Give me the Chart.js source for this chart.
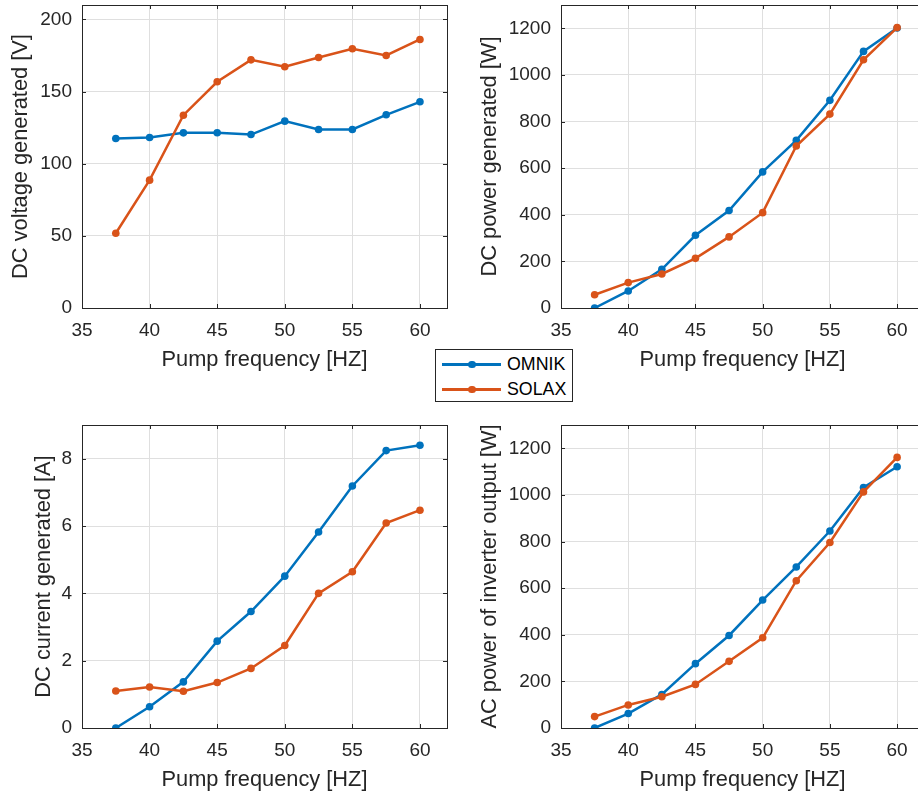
<!DOCTYPE html>
<html>
<head>
<meta charset="utf-8">
<script src="https://cdn.jsdelivr.net/npm/chart.js@4/dist/chart.umd.min.js"></script>
<style>
  html, body { margin: 0; padding: 0; background: #fff; overflow: hidden; }
  body { width: 918px; height: 793px; position: relative; }
  canvas { position: absolute; }
  #legend {
    position: absolute; left: 435px; top: 349px; width: 136px; height: 51px;
    border: 1px solid #262626; background: #fff; z-index: 5;
    font-family: 'Liberation Sans', Arial, sans-serif; font-size: 17.8px; color: #000;
  }
  .item { position: absolute; left: 0; height: 20px; width: 136px; }
  .item .ln { position: absolute; left: 6px; width: 59px; height: 2.5px; top: 9px; }
  .item .dot { position: absolute; left: 32px; width: 7.5px; height: 7.5px; border-radius: 50%; top: 6.5px; }
  .item .tx { position: absolute; left: 71px; top: 0; line-height: 20px; }
</style>
</head>
<body>
<canvas id="c1" width="460" height="380" style="left:0;top:0"></canvas>
<canvas id="c2" width="468" height="380" style="left:460px;top:0"></canvas>
<canvas id="c3" width="460" height="380" style="left:0;top:420px"></canvas>
<canvas id="c4" width="468" height="380" style="left:460px;top:420px"></canvas>
<div id="legend"></div>
<script>
// ---- data ----
const freq = [37.5, 40, 42.5, 45, 47.5, 50, 52.5, 55, 57.5, 60];
const seriesNames = ['OMNIK', 'SOLAX'];
const seriesColors = ['#0072BD', '#D95319'];

const voltOmnik = [117.5, 118.2, 121.4, 121.5, 120.2, 129.5, 123.7, 123.7, 133.9, 142.9];
const voltSolax = [51.8, 88.6, 133.6, 156.8, 172.0, 167.2, 173.6, 179.7, 175.0, 186.1];

const dcPowerOmnik = [0, 73, 166, 312, 418, 584, 719, 891, 1101, 1201];
const dcPowerSolax = [57, 109, 146, 213, 305, 409, 695, 832, 1065, 1203];

const currentOmnik = [0, 0.63, 1.37, 2.58, 3.46, 4.51, 5.82, 7.19, 8.24, 8.40];
const currentSolax = [1.10, 1.22, 1.09, 1.35, 1.77, 2.45, 4.00, 4.64, 6.09, 6.47];

const acPowerOmnik = [0, 62, 144, 276, 397, 549, 691, 845, 1032, 1121];
const acPowerSolax = [49, 99, 134, 187, 286, 387, 632, 796, 1013, 1161];

const xLabel = 'Pump frequency [HZ]';

Chart.defaults.font.family = "'Liberation Sans', Arial, sans-serif";
Chart.defaults.color = '#262626';

// box around the axes + small inward ticks (matlab style)
const boxPlugin = {
  id: 'box',
  afterDraw(chart) {
    const {ctx, chartArea: a, scales: {x, y}} = chart;
    const len = 4;
    ctx.save();
    ctx.strokeStyle = '#262626';
    ctx.lineWidth = 1;
    ctx.beginPath();
    x.ticks.forEach(t => {
      const px = Math.round(x.getPixelForValue(t.value)) + 0.5;
      ctx.moveTo(px, a.bottom); ctx.lineTo(px, a.bottom - len);
      ctx.moveTo(px, a.top); ctx.lineTo(px, a.top + len);
    });
    y.ticks.forEach(t => {
      const py = Math.round(y.getPixelForValue(t.value)) + 0.5;
      ctx.moveTo(a.left, py); ctx.lineTo(a.left + len, py);
      ctx.moveTo(a.right, py); ctx.lineTo(a.right - len, py);
    });
    ctx.stroke();
    ctx.strokeRect(a.left + 0.5, a.top + 0.5, a.right - a.left, a.bottom - a.top);
    ctx.restore();
  }
};

function pairs(ys) {
  return freq.map((f, i) => ({x: f, y: ys[i]}));
}

function drawPlot(id, yTitle, omnik, solax, yMax, yStep, yWidth, titlePad, padRight) {
  const data = [omnik, solax];
  new Chart(document.getElementById(id), {
    type: 'line',
    data: {
      datasets: data.map((d, i) => ({
        label: seriesNames[i],
        data: pairs(d),
        borderColor: seriesColors[i],
        backgroundColor: seriesColors[i],
        pointBackgroundColor: seriesColors[i],
        borderWidth: 2.5,
        pointRadius: 3.8,
        pointBorderWidth: 0,
        tension: 0,
        order: 1 - i
      }))
    },
    options: {
      responsive: false,
      animation: false,
      devicePixelRatio: 1,
      layout: {padding: {top: 5, right: padRight, left: 0, bottom: 0}},
      plugins: {legend: {display: false}, tooltip: {enabled: false}},
      scales: {
        x: {
          type: 'linear', min: 35, max: 62,
          afterFit: s => { s.height = 72; s.paddingLeft = 0; s.paddingRight = 0; },
          ticks: {stepSize: 5, includeBounds: false, padding: 11, maxRotation: 0,
                  font: {size: 19}, color: '#262626', callback: v => String(v)},
          grid: {color: '#dfdfdf', drawTicks: false},
          border: {display: false},
          title: {display: true, text: xLabel, font: {size: 21.8},
                  color: '#262626', padding: {top: 0, bottom: 7}}
        },
        y: {
          min: 0, max: yMax,
          afterFit: s => { s.width = yWidth; s.paddingTop = 0; s.paddingBottom = 0; },
          ticks: {stepSize: yStep, includeBounds: false, padding: 10,
                  font: {size: 19}, color: '#262626', callback: v => String(v)},
          grid: {color: '#dfdfdf', drawTicks: false},
          border: {display: false},
          title: {display: true, text: yTitle, font: {size: 21.8},
                  color: '#262626', padding: {top: titlePad, bottom: 0}}
        }
      }
    },
    plugins: [boxPlugin]
  });
}

drawPlot('c1', 'DC voltage generated [V]', voltOmnik, voltSolax, 210, 50, 82, 8, 13);
drawPlot('c2', 'DC power generated [W]', dcPowerOmnik, dcPowerSolax, 1300, 200, 101, 17, 2);
drawPlot('c3', 'DC current generated [A]', currentOmnik, currentSolax, 9, 2, 82, 31, 13);
drawPlot('c4', 'AC power of inverter output [W]', acPowerOmnik, acPowerSolax, 1300, 200, 101, 17, 2);

// legend
const lg = document.getElementById('legend');
seriesNames.forEach((n, i) => {
  const it = document.createElement('div');
  it.className = 'item';
  it.style.top = (i === 0 ? 4 : 29) + 'px';
  it.innerHTML = '<div class="ln" style="background:' + seriesColors[i] + '"></div>' +
    '<div class="dot" style="background:' + seriesColors[i] + '"></div>' +
    '<div class="tx">' + n + '</div>';
  lg.appendChild(it);
});
</script>
</body>
</html>
